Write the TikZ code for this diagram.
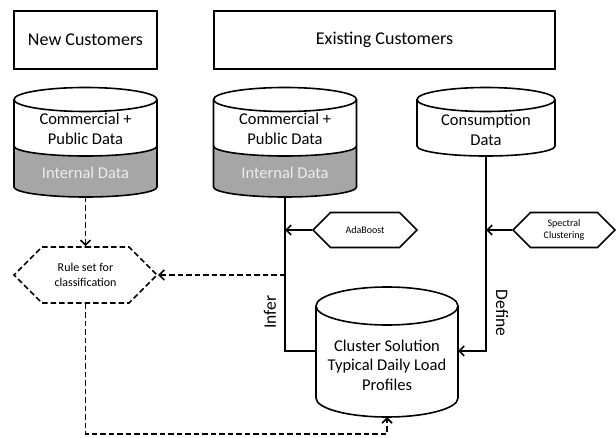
\documentclass[tikz,border=0pt]{standalone}
\usepackage{fontspec}
\setmainfont{Carlito}
\usetikzlibrary{shapes.symbols,arrows.meta}

\definecolor{intgray}{RGB}{166,166,166}
\definecolor{inttext}{RGB}{236,236,236}

\tikzset{
  header/.style={draw, line width=1.7pt, minimum height=58pt, font=\fontsize{18}{22}\selectfont},
  datatext/.style={align=center, font=\fontsize{16.5}{19.5}\selectfont},
  hexa/.style={signal, signal to=east and west, signal pointer angle=90, draw, line width=1.6pt, inner sep=0pt, align=center},
  cyl/.style={line width=1.6pt},
  link/.style={line width=1.6pt},
  flow/.style={link, -{Straight Barb[length=5pt,width=10pt]}},
  dashflow/.style={flow, dash pattern=on 5.5pt off 3pt},
  sidelabel/.style={font=\fontsize{17.5}{20}\selectfont},
}

\begin{document}
\begin{tikzpicture}[x=1pt,y=1pt]
  \useasboundingbox (0,0) rectangle (616,437);

  % customer groups
  \node[header, minimum width=143pt] (newcust) at (85.5,397) {New Customers};
  \node[header, minimum width=341pt] (existcust) at (384.5,397) {Existing Customers};

  % the two customer data stores, white top and grey internal part
  \foreach \cx in {85.5,285} {
    \fill[intgray] (\cx-71.5,291) arc[start angle=180, end angle=360, x radius=71.5, y radius=10]
      -- (\cx+71.5,250) arc[start angle=360, end angle=180, x radius=71.5, y radius=10] -- cycle;
    \draw[cyl] (\cx-71.5,337.5) -- (\cx-71.5,250)
      arc[start angle=180, end angle=360, x radius=71.5, y radius=10]
      -- (\cx+71.5,337.5) arc[start angle=0, end angle=180, x radius=71.5, y radius=12] -- cycle;
    \draw[cyl] (\cx-71.5,337.5) arc[start angle=180, end angle=360, x radius=71.5, y radius=12];
    \draw[cyl] (\cx-71.5,291) arc[start angle=180, end angle=360, x radius=71.5, y radius=10];
  }
  \node[datatext] (newpub) at (85.5,308) {Commercial +\\Public Data};
  \node[datatext, text=inttext] (newint) at (85.5,264) {Internal Data};
  \node[datatext] (oldpub) at (285,308) {Commercial +\\Public Data};
  \node[datatext, text=inttext] (oldint) at (285,264) {Internal Data};

  % consumption store
  \draw[cyl] (417,337.5) -- (417,291) arc[start angle=180, end angle=360, x radius=69, y radius=10]
    -- (555,337.5) arc[start angle=0, end angle=180, x radius=69, y radius=12] -- cycle;
  \draw[cyl] (417,337.5) arc[start angle=180, end angle=360, x radius=69, y radius=12];
  \node[datatext] (usage) at (486,307) {Consumption\\Data};

  % cluster store
  \draw[cyl] (316,131) -- (316,39) arc[start angle=180, end angle=360, x radius=71, y radius=19]
    -- (458,131) arc[start angle=0, end angle=180, x radius=71, y radius=19] -- cycle;
  \draw[cyl] (316,131) arc[start angle=180, end angle=360, x radius=71, y radius=19];
  \node[datatext] (cluster) at (387,72) {Cluster Solution\\Typical Daily Load\\Profiles};

  \coordinate (newbot) at (85.5,240);
  \coordinate (oldbot) at (285,240);
  \coordinate (usagebot) at (486,281);
  \coordinate (clusterW) at (316,86);
  \coordinate (clusterE) at (458,86);
  \coordinate (clusterbot) at (387,20);

  % methods
  \node[hexa, dash pattern=on 5.5pt off 3pt, minimum width=143pt, minimum height=56pt,
    font=\fontsize{12}{14.5}\selectfont] (rules) at (85.5,162) {Rule set for\\classification};
  \node[hexa, minimum width=104pt, minimum height=35pt,
    font=\fontsize{10}{12}\selectfont] (adaboost) at (365,207) {AdaBoost};
  \node[hexa, minimum width=102pt, minimum height=35pt,
    font=\fontsize{10}{12}\selectfont] (spectral) at (564,207) {Spectral\\Clustering};

  % links
  \draw[link] (oldbot) |- (clusterW);
  \draw[flow] (usagebot) |- (clusterE);
  \draw[flow] (adaboost.west) -- (adaboost.west -| oldbot);
  \draw[flow] (spectral.west) -- (spectral.west -| usagebot);
  \draw[dashflow] (newbot) -- (rules.north);
  \draw[dashflow] (rules.east -| oldbot) -- (rules.east);
  \draw[dashflow] (rules.south) -- ++(0,-130) -| (clusterbot);

  \node[sidelabel, rotate=90] (infer) at (270,125) {Infer};
  \node[sidelabel, rotate=-90] (define) at (502,124) {Define};
\end{tikzpicture}
\end{document}
